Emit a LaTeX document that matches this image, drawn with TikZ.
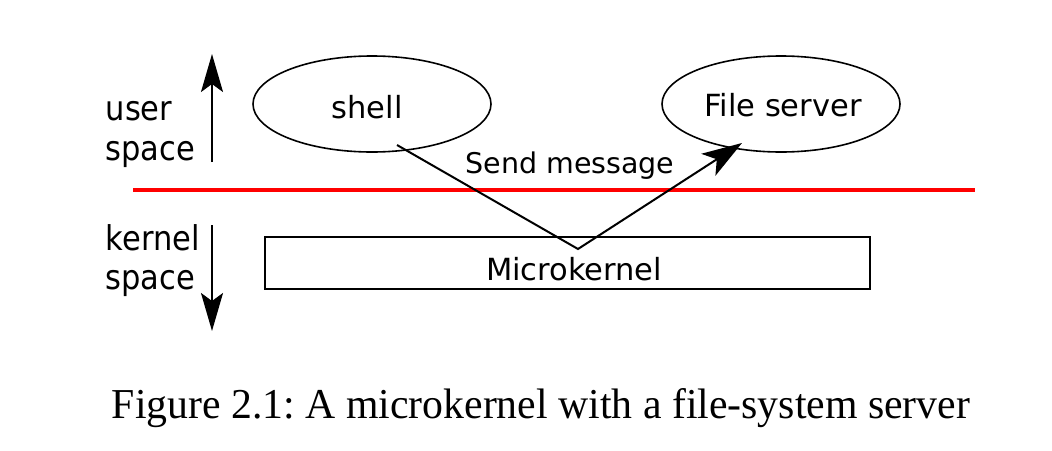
\documentclass[tikz,border=0pt]{standalone}
\usepackage{fontspec}
\setmainfont{DejaVu Sans}
\newfontfamily\capfont{Liberation Serif}
\usetikzlibrary{arrows.meta,shapes.geometric}
\newcommand{\tallside}[1]{\scalebox{1}[1.12]{#1}}
\begin{document}
\begin{tikzpicture}[x=1pt,y=-1pt,
  lbl/.style={font=\fontsize{30.5}{39}\selectfont, inner sep=0pt, anchor=base},
  side/.style={font=\fontsize{30.5}{39}\selectfont, inner sep=0pt, anchor=base west},
  ell/.style={draw, line width=1.6pt, shape=ellipse, minimum width=238pt, minimum height=96pt, inner sep=0pt},
  vtip/.style={-{Stealth[length=38pt,width=22pt,inset=8pt]}, line width=2pt},
  msg/.style={-{Stealth[length=40pt,width=26pt,inset=10pt]}, line width=2pt}]
\useasboundingbox (0,0) rectangle (1052,450);
% ellipses
\node[ell] (shell) at (372,104) {};
\node[lbl] (shelltxt) at (367,118) {shell};
\node[ell] (fs) at (781,104) {};
\node[lbl] (fstxt) at (783,116) {File server};
% red separator
\coordinate (redL) at (133,190);
\coordinate (redR) at (975,190);
\draw[red, line width=4pt] (redL) -- (redR);
% microkernel box
\node[draw, line width=1.6pt, minimum width=605pt, minimum height=52pt, inner sep=0pt] (mk) at (567.5,263) {};
\node[lbl] (mktxt) at (574,280) {Microkernel};
% side labels
\node[side] (user) at (105.5,120) {\tallside{user}};
\node[side] (userb) at (105.5,160) {\tallside{space}};
\node[side] (kern) at (105.5,250) {\tallside{kernel}};
\node[side] (kernb) at (105.5,289) {\tallside{space}};
\coordinate (upA) at (212,162);
\coordinate (upB) at (212,54);
\draw[vtip] (upA) -- (upB);
\coordinate (dnA) at (212,225);
\coordinate (dnB) at (212,331);
\draw[vtip] (dnA) -- (dnB);
% message path
\coordinate (ms) at (397,145);
\coordinate (mv) at (578,249);
\coordinate (me) at (742,143);
\draw[msg, line join=miter] (ms) -- (mv) -- (me);
\node[lbl, font=\fontsize{28.5}{34}\selectfont] (send) at (570,173) {Send message};
% caption
\node[inner sep=0pt, anchor=base] (cap) at (541,418) {\resizebox{858pt}{30pt}{\capfont\frenchspacing\fontsize{38}{44}\selectfont Figure 2.1: A microkernel with a file-system server}};
\end{tikzpicture}
\end{document}
